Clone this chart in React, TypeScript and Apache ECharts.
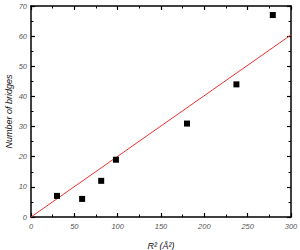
import React, { useEffect, useRef } from "react";
import * as echarts from "echarts";

const r2Values = [30, 59, 81, 98, 180, 237, 279];
const bridgeCounts = [7, 6, 12, 19, 31, 44, 67];
const fitX = [0, 300];
const fitY = [0, 60.4];
const xTicks = [0, 50, 100, 150, 200, 250, 300];
const yTicks = [0, 10, 20, 30, 40, 50, 60, 70];

const font = "Liberation Sans";

export default function App() {
  const ref = useRef<HTMLDivElement>(null);
  useEffect(() => {
    if (!ref.current) return;
    const chart = echarts.init(ref.current, null, { renderer: "svg" });
    const axisLine = { show: true, onZero: false, lineStyle: { color: "#000", width: 1.5 } };
    const tick = { show: true, inside: true, length: 4, lineStyle: { color: "#000", width: 1.2 } };
    const minor = { show: true, splitNumber: 2, length: 2.5, lineStyle: { color: "#000", width: 1 } };
    const lbl = { color: "#555", fontSize: 7.5, fontStyle: "italic", fontFamily: font };
    chart.setOption({
      animation: false,
      grid: { left: 31, right: 9, top: 6, bottom: 33, containLabel: false, outerBoundsMode: "none" },
      xAxis: [
        {
          type: "value", min: xTicks[0], max: xTicks[xTicks.length - 1], interval: 50,
          position: "bottom", axisLine, axisTick: tick, minorTick: minor,
          splitLine: { show: false },
          axisLabel: { ...lbl, margin: 5 },
          name: "R² (Å²)", nameLocation: "middle", nameGap: 24, nameMoveOverlap: false,
          nameTextStyle: { color: "#111", fontSize: 9, fontStyle: "italic", fontFamily: font },
        },
        {
          type: "value", min: xTicks[0], max: xTicks[xTicks.length - 1], interval: 50,
          position: "top", axisLine, axisTick: tick, minorTick: minor,
          splitLine: { show: false }, axisLabel: { show: false },
        },
      ],
      yAxis: [
        {
          type: "value", min: yTicks[0], max: yTicks[yTicks.length - 1], interval: 10,
          position: "left", axisLine, axisTick: tick, minorTick: minor,
          splitLine: { show: false },
          axisLabel: { ...lbl, margin: 4 },
          name: "Number of bridges", nameLocation: "middle", nameGap: 18, nameMoveOverlap: false,
          nameTextStyle: { color: "#111", fontSize: 9, fontStyle: "italic", fontFamily: font },
        },
        {
          type: "value", min: yTicks[0], max: yTicks[yTicks.length - 1], interval: 10,
          position: "right", axisLine, axisTick: tick, minorTick: minor,
          splitLine: { show: false }, axisLabel: { show: false },
        },
      ],
      series: [
        {
          type: "line",
          data: fitX.map((x, i) => [x, fitY[i]]),
          showSymbol: false,
          lineStyle: { color: "#f03030", width: 1 },
          z: 2,
        },
        {
          type: "scatter",
          data: r2Values.map((x, i) => [x, bridgeCounts[i]]),
          symbol: "rect",
          symbolSize: 6,
          itemStyle: { color: "#000", opacity: 1 },
          z: 3,
        },
      ],
    });
    return () => chart.dispose();
  }, []);
  return <div ref={ref} style={{ width: 300, height: 250, position: "absolute", left: 0, top: 0 }} />;
}
